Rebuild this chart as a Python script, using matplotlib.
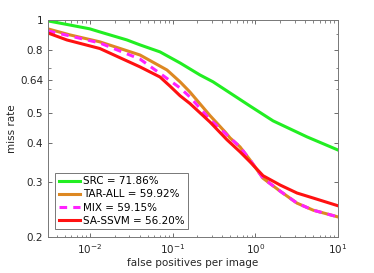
import matplotlib
matplotlib.use("Agg")
import matplotlib.pyplot as plt
from matplotlib.ticker import FixedLocator, NullFormatter, LogLocator

# Data
src_fppi = [0.00311, 0.00574, 0.0100, 0.0132, 0.0281, 0.0404, 0.0704, 0.123, 0.214, 0.308, 0.494, 0.863, 1.64, 4.22, 10.0]
src_miss = [0.993, 0.963, 0.936, 0.915, 0.862, 0.831, 0.789, 0.727, 0.665, 0.632, 0.582, 0.528, 0.473, 0.420, 0.381]

tar_fppi = [0.00311, 0.00574, 0.0132, 0.0404, 0.0855, 0.123, 0.162, 0.283, 0.430, 0.494, 0.653, 0.863, 1.24, 1.99, 3.19, 4.99, 10.0]
tar_miss = [0.936, 0.895, 0.850, 0.771, 0.690, 0.632, 0.586, 0.492, 0.436, 0.417, 0.390, 0.354, 0.309, 0.281, 0.257, 0.244, 0.232]

mix_fppi = [0.00311, 0.00574, 0.0132, 0.0404, 0.0855, 0.123, 0.162, 0.283, 0.430, 0.494, 0.653, 0.863, 1.24, 1.99, 3.19, 4.99, 10.0]
mix_miss = [0.922, 0.888, 0.843, 0.748, 0.648, 0.604, 0.565, 0.478, 0.432, 0.417, 0.390, 0.354, 0.309, 0.281, 0.257, 0.244, 0.232]

ssvm_fppi = [0.00311, 0.00528, 0.0132, 0.0404, 0.0704, 0.0931, 0.123, 0.162, 0.283, 0.455, 0.653, 0.863, 1.24, 1.99, 3.19, 4.99, 10.0]
ssvm_miss = [0.908, 0.862, 0.809, 0.706, 0.655, 0.612, 0.570, 0.538, 0.469, 0.411, 0.376, 0.349, 0.315, 0.294, 0.277, 0.267, 0.252]

labels = ["SRC = 71.86%", "TAR-ALL = 59.92%", "MIX = 59.15%", "SA-SSVM = 56.20%"]
y_ticks = [0.2, 0.3, 0.4, 0.5, 0.64, 0.8, 1]
y_ticklabels = ["0.2", "0.3", "0.4", "0.5", "0.64", "0.8", "1"]
x_ticks = [1e-2, 1e-1, 1e0, 1e1]
x_ticklabels = [r"$10^{-2}$", r"$10^{-1}$", r"$10^{0}$", r"$10^{1}$"]

plt.rcParams['font.family'] = ['DejaVu Sans']
fig = plt.figure(figsize=(3.74, 2.73), dpi=100)
ax = fig.add_axes([0.128, 0.132, 0.776, 0.795])

lw = 2.2
ax.plot(src_fppi, src_miss, color="#22ee22", lw=lw, label=labels[0])
ax.plot(tar_fppi, tar_miss, color="#dd8822", lw=lw, label=labels[1])
ax.plot(mix_fppi, mix_miss, color="#ff22ff", lw=lw, dashes=(2.5, 2), label=labels[2])
ax.plot(ssvm_fppi, ssvm_miss, color="#ff1111", lw=lw, label=labels[3])

ax.set_xscale("log")
ax.set_yscale("log")
ax.set_xlim(10 ** -2.507, 10)
ax.set_ylim(0.2, 1)

ax.yaxis.set_major_locator(FixedLocator(y_ticks))
ax.set_yticklabels(y_ticklabels)
ax.yaxis.set_minor_locator(FixedLocator([0.6, 0.7, 0.9]))
ax.yaxis.set_minor_formatter(NullFormatter())
ax.xaxis.set_major_locator(FixedLocator(x_ticks))
ax.set_xticklabels(x_ticklabels)
ax.xaxis.set_minor_locator(LogLocator(base=10, subs=range(2, 10)))
ax.xaxis.set_minor_formatter(NullFormatter())

ax.tick_params(which="both", direction="in", top=True, right=True, colors="#555555",
               labelcolor="#262626", labelsize=7.5)
ax.tick_params(which="major", length=3, width=0.6)
ax.tick_params(which="minor", length=1.8, width=0.5)
for s in ax.spines.values():
    s.set_color("#777777")
    s.set_linewidth(0.7)

ax.set_xlabel("false positives per image", fontsize=7.5, color="#262626", labelpad=2)
ax.set_ylabel("miss rate", fontsize=7.5, color="#262626", labelpad=2)

leg = ax.legend(loc="lower left", bbox_to_anchor=(0.025, 0.035), fontsize=7.5,
                handlelength=2.0, handletextpad=0.3, borderpad=0.35, labelspacing=0.3,
                fancybox=False, framealpha=1, edgecolor="#777777", borderaxespad=0)
leg.get_frame().set_linewidth(0.7)

fig.savefig("out.png", dpi=100)
